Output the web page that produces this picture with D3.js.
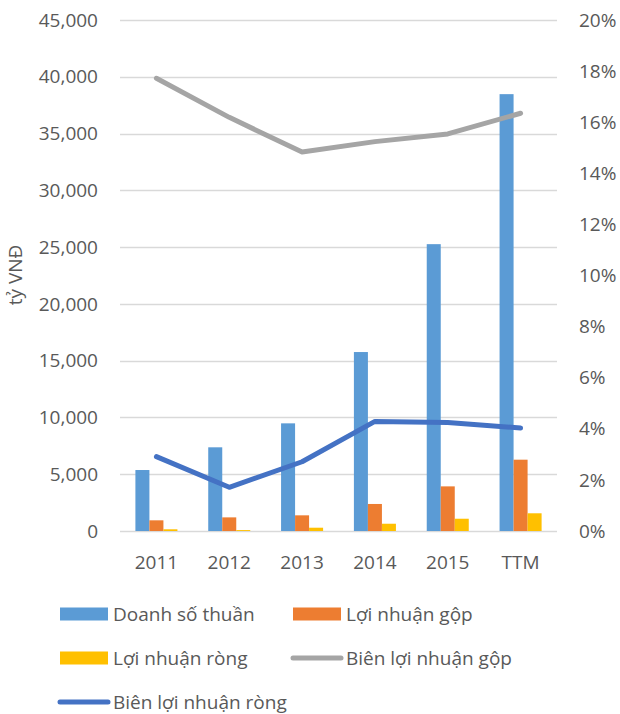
<!DOCTYPE html>
<html>
<head>
<meta charset="utf-8">
<script src="https://cdn.jsdelivr.net/npm/d3@7"></script>
<style>
html,body{margin:0;padding:0;background:#fff;}
svg{display:block;font-family:"Open Sans",sans-serif;}
</style>
</head>
<body>
<svg id="chart" width="620" height="714"></svg>
<script>
const categories = ["2011","2012","2013","2014","2015","TTM"];
const doanhSoThuan = [5370, 7370, 9480, 15760, 25260, 38470];
const loiNhuanGop = [940, 1200, 1380, 2380, 3930, 6280];
const loiNhuanRong = [150, 80, 290, 640, 1080, 1560];
const bienLoiNhuanGop = [0.1772, 0.1619, 0.1483, 0.1524, 0.1554, 0.1635];
const bienLoiNhuanRong = [0.0291, 0.0171, 0.0271, 0.0429, 0.0425, 0.0403];
const leftTicks = [0,5000,10000,15000,20000,25000,30000,35000,40000,45000];
const rightTicks = [0,0.02,0.04,0.06,0.08,0.10,0.12,0.14,0.16,0.18,0.20];
const barSeries = ["Doanh số thuần","Lợi nhuận gộp","Lợi nhuận ròng"];
const lineSeries = ["Biên lợi nhuận gộp","Biên lợi nhuận ròng"];
const yTitle = "tỷ VNĐ";

const barColors = ["#5B9BD5","#ED7D31","#FFC000"];
const lineColors = ["#A5A5A5","#4472C4"];
const textColor = "#595959";
const fs = 19;

const svg = d3.select("#chart");
const L = 120, R = 557, T = 20, B = 531;

const y = d3.scaleLinear().domain([0,45000]).range([B,T]);
const y2 = d3.scaleLinear().domain([0,0.2]).range([B,T]);
const x0 = d3.scaleBand().domain(categories).range([L,R]).paddingInner(0.423).paddingOuter(0.2115);
const x1 = d3.scaleBand().domain(barSeries).range([0,x0.bandwidth()]);

// gridlines
svg.append("g").selectAll("line").data(leftTicks).join("line")
  .attr("x1",L).attr("x2",R)
  .attr("y1",d=>Math.round(y(d))+0.5).attr("y2",d=>Math.round(y(d))+0.5)
  .attr("stroke","#D9D9D9").attr("stroke-width",1.3);

// left axis labels
const fmt = d3.format(",");
svg.append("g").selectAll("text").data(leftTicks).join("text")
  .attr("x",98).attr("y",d=>y(d)).attr("dy","0.35em")
  .attr("text-anchor","end").attr("fill",textColor).attr("font-size",fs)
  .text(d=>fmt(d));

// right axis labels
svg.append("g").selectAll("text").data(rightTicks).join("text")
  .attr("x",579).attr("y",d=>y2(d)).attr("dy","0.35em")
  .attr("text-anchor","start").attr("fill",textColor).attr("font-size",fs)
  .text(d=>Math.round(d*100)+"%");

// x labels
svg.append("g").selectAll("text").data(categories).join("text")
  .attr("x",d=>x0(d)+x0.bandwidth()/2).attr("y",562).attr("dy","0.35em")
  .attr("text-anchor","middle").attr("fill",textColor).attr("font-size",fs)
  .text(d=>d);

// y title
svg.append("text")
  .attr("transform","translate(22,275) rotate(-90)")
  .attr("text-anchor","middle").attr("fill",textColor).attr("font-size",fs)
  .text(yTitle);

// bars
const barData = [doanhSoThuan, loiNhuanGop, loiNhuanRong];
barData.forEach((vals,si)=>{
  svg.append("g").selectAll("rect").data(vals).join("rect")
    .attr("x",(d,i)=>x0(categories[i])+x1(barSeries[si]))
    .attr("width",x1.bandwidth())
    .attr("y",d=>y(d))
    .attr("height",d=>B-y(d))
    .attr("fill",barColors[si]);
});

// lines
const lineData = [bienLoiNhuanGop, bienLoiNhuanRong];
const lineGen = d3.line()
  .x((d,i)=>x0(categories[i])+x0.bandwidth()/2)
  .y(d=>y2(d));
lineData.forEach((vals,si)=>{
  svg.append("path").datum(vals)
    .attr("d",lineGen)
    .attr("fill","none")
    .attr("stroke",lineColors[si])
    .attr("stroke-width",5)
    .attr("stroke-linecap","round")
    .attr("stroke-linejoin","round");
});

// legend
const leg = svg.append("g").attr("font-size",fs).attr("fill",textColor);
const legendItems = [
  {name:barSeries[0], type:"rect", color:barColors[0], sx:60, sy:614, tx:113},
  {name:barSeries[1], type:"rect", color:barColors[1], sx:293, sy:614, tx:346},
  {name:barSeries[2], type:"rect", color:barColors[2], sx:60, sy:658, tx:113},
  {name:lineSeries[0], type:"line", color:lineColors[0], sx:291, sy:658, tx:346},
  {name:lineSeries[1], type:"line", color:lineColors[1], sx:58, sy:702, tx:113}
];
legendItems.forEach(it=>{
  if(it.type==="rect"){
    leg.append("rect").attr("x",it.sx).attr("y",it.sy-6.5).attr("width",48).attr("height",13).attr("fill",it.color);
  } else {
    leg.append("line").attr("x1",it.sx+2).attr("x2",it.sx+50).attr("y1",it.sy).attr("y2",it.sy)
      .attr("stroke",it.color).attr("stroke-width",5).attr("stroke-linecap","round");
  }
  leg.append("text").attr("x",it.tx).attr("y",it.sy).attr("dy","0.35em").text(it.name);
});
</script>
</body>
</html>
